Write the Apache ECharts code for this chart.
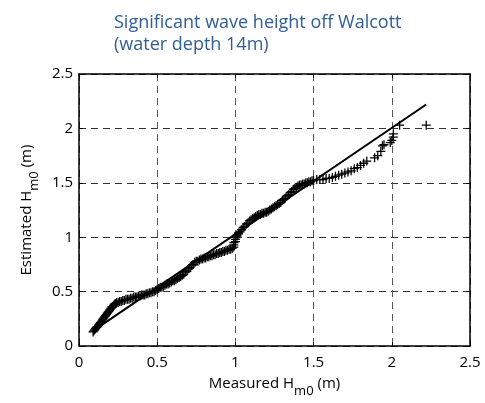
<!DOCTYPE html>
<html>
<head>
<meta charset="utf-8">
<script src="https://cdn.jsdelivr.net/npm/echarts@6/dist/echarts.min.js"></script>
<style>
  html, body { margin: 0; padding: 0; background: #fff; }
  #chart { width: 485px; height: 403px; }
</style>
</head>
<body>
<div id="chart"></div>
<script>
// measured vs estimated Hm0 (m) (sorted pairs)
var measured = [
  0.09, 0.095, 0.10, 0.105, 0.11, 0.115, 0.12, 0.125, 0.13, 0.135, 0.14, 0.145, 0.15, 0.155, 0.16, 0.165,
  0.17, 0.175, 0.18, 0.185, 0.19, 0.195, 0.20, 0.205, 0.21, 0.215, 0.22, 0.225, 0.23, 0.235, 0.24,
  0.25, 0.26, 0.27, 0.28, 0.29, 0.30, 0.31, 0.32, 0.33, 0.34, 0.35, 0.36, 0.37, 0.38, 0.39, 0.40,
  0.41, 0.42, 0.43, 0.44, 0.45, 0.46, 0.47, 0.48,
  0.49, 0.50, 0.51, 0.52, 0.53, 0.54, 0.55, 0.56, 0.57, 0.58, 0.59, 0.60, 0.61, 0.62, 0.63, 0.64,
  0.65, 0.66, 0.67, 0.68, 0.69, 0.70, 0.71, 0.72, 0.73, 0.74, 0.75, 0.76, 0.77, 0.78, 0.79, 0.80,
  0.81, 0.82, 0.83, 0.84, 0.85, 0.86, 0.87, 0.88, 0.89, 0.90, 0.91, 0.92, 0.93, 0.94, 0.95, 0.96,
  0.97, 0.98,
  0.99, 0.99, 0.99, 1.00, 1.00, 1.00, 1.01, 1.01, 1.02, 1.02, 1.03, 1.04, 1.05, 1.06, 1.07, 1.08,
  1.09, 1.10, 1.11, 1.12, 1.13, 1.14, 1.15, 1.16, 1.17, 1.18, 1.19, 1.20, 1.21, 1.22, 1.23, 1.24,
  1.25, 1.26, 1.27, 1.28, 1.29, 1.30, 1.31, 1.32, 1.33, 1.34, 1.35, 1.36, 1.37, 1.38, 1.39, 1.40,
  1.41, 1.42, 1.43, 1.44, 1.45, 1.46, 1.47, 1.48, 1.49, 1.50,
  1.52, 1.54, 1.56, 1.58, 1.60, 1.62, 1.64, 1.66, 1.68, 1.70, 1.72, 1.74, 1.76, 1.78, 1.80, 1.82,
  1.84, 1.89, 1.91, 1.93, 1.94, 1.95, 1.99, 2.00, 2.01, 2.01, 2.05, 2.22
];
var estimated = [
  0.13, 0.14, 0.15, 0.16, 0.17, 0.18, 0.18, 0.19, 0.20, 0.21, 0.22, 0.23, 0.24, 0.25, 0.26, 0.27,
  0.28, 0.29, 0.30, 0.31, 0.32, 0.33, 0.34, 0.35, 0.36, 0.36, 0.37, 0.38, 0.39, 0.39, 0.40,
  0.40, 0.41, 0.41, 0.42, 0.42, 0.43, 0.43, 0.43, 0.44, 0.44, 0.45, 0.45, 0.45, 0.46, 0.46, 0.47,
  0.47, 0.47, 0.48, 0.48, 0.49, 0.49, 0.50, 0.50,
  0.51, 0.52, 0.53, 0.54, 0.54, 0.55, 0.56, 0.57, 0.57, 0.58, 0.59, 0.60, 0.60, 0.61, 0.62, 0.63,
  0.64, 0.65, 0.66, 0.68, 0.69, 0.71, 0.72, 0.74, 0.75, 0.77, 0.78, 0.78, 0.79, 0.80, 0.80, 0.81,
  0.81, 0.82, 0.82, 0.83, 0.83, 0.84, 0.84, 0.85, 0.85, 0.86, 0.86, 0.87, 0.87, 0.88, 0.88, 0.89,
  0.89, 0.90,
  0.91, 0.93, 0.95, 0.96, 0.98, 1.00, 1.01, 1.02, 1.03, 1.04, 1.05, 1.07, 1.09, 1.10, 1.12, 1.13,
  1.15, 1.16, 1.17, 1.18, 1.19, 1.20, 1.21, 1.21, 1.22, 1.22, 1.23, 1.23, 1.24, 1.25, 1.26, 1.27,
  1.28, 1.29, 1.30, 1.31, 1.32, 1.34, 1.35, 1.36, 1.38, 1.39, 1.41, 1.42, 1.44, 1.45, 1.46, 1.47,
  1.48, 1.48, 1.49, 1.49, 1.50, 1.50, 1.51, 1.51, 1.52, 1.52,
  1.53, 1.53, 1.53, 1.54, 1.54, 1.55, 1.56, 1.57, 1.58, 1.59, 1.60, 1.61, 1.63, 1.64, 1.66, 1.68,
  1.70, 1.73, 1.75, 1.79, 1.84, 1.85, 1.87, 1.89, 1.92, 1.95, 2.03, 2.03
];
// fitted line end points
var fitX = [0.09, 2.22];
var fitY = [0.14, 2.22];

var axisTicks = [0, 0.5, 1, 1.5, 2, 2.5];

var myChart = echarts.init(document.getElementById("chart"));

var pts = measured.map(function (x, i) { return [x, estimated[i]]; });
var fit = fitX.map(function (x, i) { return [x, fitY[i]]; });

var plus = "path://M4.3,0h1.4v4.3h4.3v1.4h-4.3v4.3h-1.4v-4.3h-4.3v-1.4h4.3z";
var font = "'Open Sans', 'Liberation Sans', sans-serif";

function frameAxis(pos, extra) {
  var a = {
    type: "value",
    position: pos,
    min: 0,
    max: 2.5,
    interval: 0.5,
    axisLine: { show: true, onZero: false, lineStyle: { color: "#000", width: 1.5 } },
    axisTick: { show: true, inside: true, length: 4, lineStyle: { color: "#000" } },
    axisLabel: { show: false },
    splitLine: { show: false }
  };
  for (var k in extra) a[k] = extra[k];
  return a;
}

var option = {
  animation: false,
  backgroundColor: "#fff",
  title: {
    text: "Significant wave height off Walcott\n(water depth 14m)",
    left: 109,
    top: 7,
    textStyle: { color: "#2f5d96", fontSize: 18, fontWeight: "normal", fontFamily: font, lineHeight: 22 }
  },
  grid: { left: 79, right: 15, top: 74, bottom: 56 },
  xAxis: [
    frameAxis("bottom", {
      name: "{a|Measured H}{s|m0}{a| (m)}",
      nameLocation: "middle",
      nameGap: 22,
      nameTextStyle: {
        rich: {
          a: { fontSize: 15, color: "#000", fontFamily: font, lineHeight: 20, verticalAlign: "top" },
          s: { fontSize: 13, color: "#000", fontFamily: font, lineHeight: 20, padding: [10, 0, 0, 0] }
        }
      },
      axisLabel: {
        show: true, color: "#000", fontSize: 15, fontFamily: font, margin: 9,
        formatter: function (v) { return axisTicks.indexOf(v) >= 0 ? String(v) : ""; }
      },
      splitLine: { show: true, lineStyle: { color: "#555", type: [7, 5], width: 1 } }
    }),
    frameAxis("top", {})
  ],
  yAxis: [
    frameAxis("left", {
      name: "{a|Estimated H}{s|m0}{a| (m)}",
      nameLocation: "middle",
      nameGap: 40,
      nameRotate: 90,
      nameTextStyle: {
        rich: {
          a: { fontSize: 15, color: "#000", fontFamily: font, lineHeight: 20, verticalAlign: "top" },
          s: { fontSize: 13, color: "#000", fontFamily: font, lineHeight: 20, padding: [10, 0, 0, 0] }
        }
      },
      axisLabel: {
        show: true, color: "#000", fontSize: 15, fontFamily: font, margin: 6,
        formatter: function (v) { return axisTicks.indexOf(v) >= 0 ? String(v) : ""; }
      },
      splitLine: { show: true, lineStyle: { color: "#333", type: [7, 5], width: 1 } }
    }),
    frameAxis("right", {})
  ],
  series: [
    {
      type: "line",
      data: fit,
      symbol: "none",
      lineStyle: { color: "#000", width: 2 },
      z: 3
    },
    {
      type: "scatter",
      data: pts,
      symbol: plus,
      symbolSize: 9,
      itemStyle: { color: "#000", opacity: 1 },
      z: 2
    }
  ]
};
myChart.setOption(option);

window.addEventListener("resize", function () {
  myChart.resize();
});
</script>
</body>
</html>
